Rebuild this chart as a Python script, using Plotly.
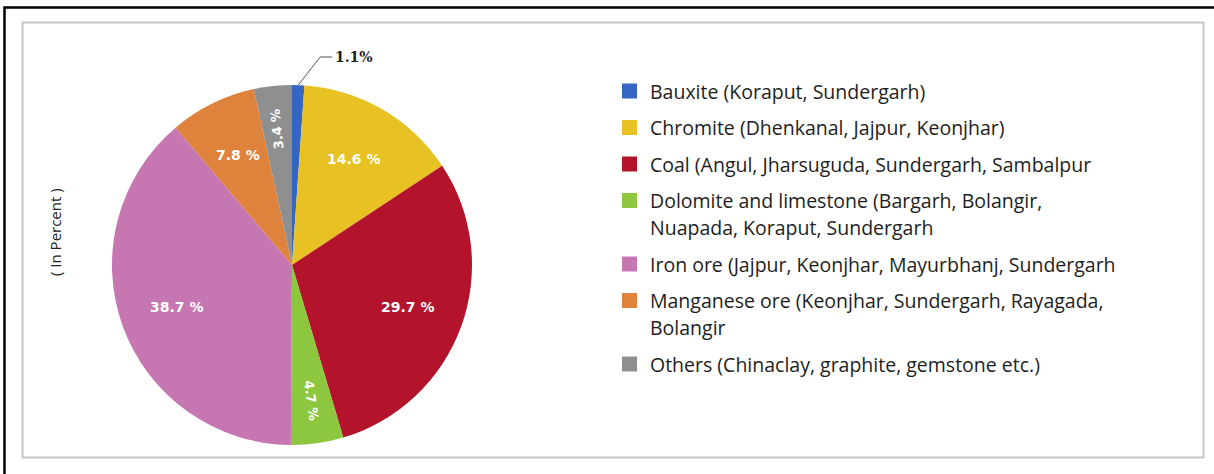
import numpy as np
import plotly.graph_objects as go

W, H = 1214, 474

# ---- data ----
categories = [
    "Bauxite (Koraput, Sundergarh)",
    "Chromite (Dhenkanal, Jajpur, Keonjhar)",
    "Coal (Angul, Jharsuguda, Sundergarh, Sambalpur",
    "Dolomite and limestone (Bargarh, Bolangir,<br>Nuapada, Koraput, Sundergarh",
    "Iron ore (Jajpur, Keonjhar, Mayurbhanj, Sundergarh",
    "Manganese ore (Keonjhar, Sundergarh, Rayagada,<br>Bolangir",
    "Others (Chinaclay, graphite, gemstone etc.)",
]
values = [1.1, 14.6, 29.7, 4.7, 38.7, 7.8, 3.4]
value_labels = ["1.1%", "14.6 %", "29.7 %", "4.7 %", "38.7 %", "7.8 %", "3.4 %"]
colors = ["#3567c2", "#e8c122", "#b3132b", "#8dc63f", "#c677b1", "#df823b", "#8f8f8f"]
axis_title = "( In Percent )"

# ---- geometry helpers (pixels -> paper) ----
def px(x):
    return x / W

def py(y):
    return 1 - y / H

CX, CY, R = 292, 265, 180

fig = go.Figure()
fig.add_trace(go.Pie(
    labels=[c.replace("<br>", " ") for c in categories],
    values=values,
    sort=False,
    direction="clockwise",
    rotation=0,
    marker=dict(colors=colors, line=dict(width=0)),
    textinfo="none",
    hoverinfo="label+percent",
    showlegend=False,
    domain=dict(x=[px(CX - R), px(CX + R)], y=[py(CY + R), py(CY - R)]),
))

annotations = []
shapes = []

# slice labels placed from the cumulative values
total = sum(values)
cum = np.cumsum([0] + values)
for i, v in enumerate(values):
    mid = (cum[i] + cum[i + 1]) / 2 / total * 360.0
    th = np.deg2rad(mid)
    if i == 0:
        # outside label with elbow leader line
        ex, ey = CX + R * np.sin(th), CY - R * np.cos(th)
        elx, ely = ex + 22, 57
        shapes.append(dict(type="path", xref="paper", yref="paper",
                           path=f"M {px(ex)},{py(ey)} L {px(elx)},{py(ely)} L {px(elx + 12)},{py(ely)}",
                           line=dict(color="#555555", width=1)))
        annotations.append(dict(x=px(elx + 13), y=py(ely), xref="paper", yref="paper",
                                text=value_labels[i], showarrow=False, xanchor="left", yanchor="middle",
                                font=dict(family="DejaVu Serif", size=14, color="#1e1e1e", weight="bold")))
        continue
    frac = 0.76 if v < 5 else 0.68
    lx, ly = CX + frac * R * np.sin(th), CY - frac * R * np.cos(th)
    angle = 0
    if v < 5:
        angle = mid - 90
        if angle > 180:
            angle -= 360
    annotations.append(dict(x=px(lx), y=py(ly), xref="paper", yref="paper",
                            text=value_labels[i], showarrow=False, textangle=angle,
                            xanchor="center", yanchor="middle",
                            font=dict(family="DejaVu Sans", size=14 if v >= 5 else 13,
                                      color="white", weight="bold")))

# manual legend
LX_SQ, LX_TXT = 622, 650
y0, entry_gap, line_gap = 91, 36.5, 27
y = y0
for i, c in enumerate(categories):
    lines = c.split("<br>")
    shapes.append(dict(type="rect", xref="paper", yref="paper",
                       x0=px(LX_SQ), x1=px(LX_SQ + 15), y0=py(y - 7.5), y1=py(y + 7.5),
                       fillcolor=colors[i], line=dict(width=0)))
    for j, ln in enumerate(lines):
        annotations.append(dict(x=px(LX_TXT - 2), y=py(y + j * line_gap), xref="paper", yref="paper",
                                text=ln, showarrow=False, xanchor="left", yanchor="middle",
                                font=dict(family="Open Sans", size=19.5, color="#1e1e1e")))
    y += (len(lines) - 1) * line_gap + entry_gap

# rotated axis caption
annotations.append(dict(x=px(55), y=py(232), xref="paper", yref="paper", text=axis_title,
                        showarrow=False, textangle=-90, xanchor="center", yanchor="middle",
                        font=dict(family="Open Sans", size=15, color="#222222")))

# borders
shapes.append(dict(type="rect", xref="paper", yref="paper",
                   x0=px(22.5), x1=px(1203.5), y0=py(457.5), y1=py(22.5),
                   line=dict(color="#c6c6c6", width=2), layer="below"))
shapes.append(dict(type="rect", xref="paper", yref="paper",
                   x0=px(4.5), x1=px(1230), y0=py(490), y1=py(7.5),
                   line=dict(color="#000000", width=2.5), layer="below"))

fig.update_layout(
    width=W, height=H,
    margin=dict(l=0, r=0, t=0, b=0),
    paper_bgcolor="white",
    plot_bgcolor="white",
    annotations=annotations,
    shapes=shapes,
)

fig.write_html("out.html",
               config={"displayModeBar": False},
               post_script="document.body.style.margin='0';document.body.style.overflow='hidden';")
